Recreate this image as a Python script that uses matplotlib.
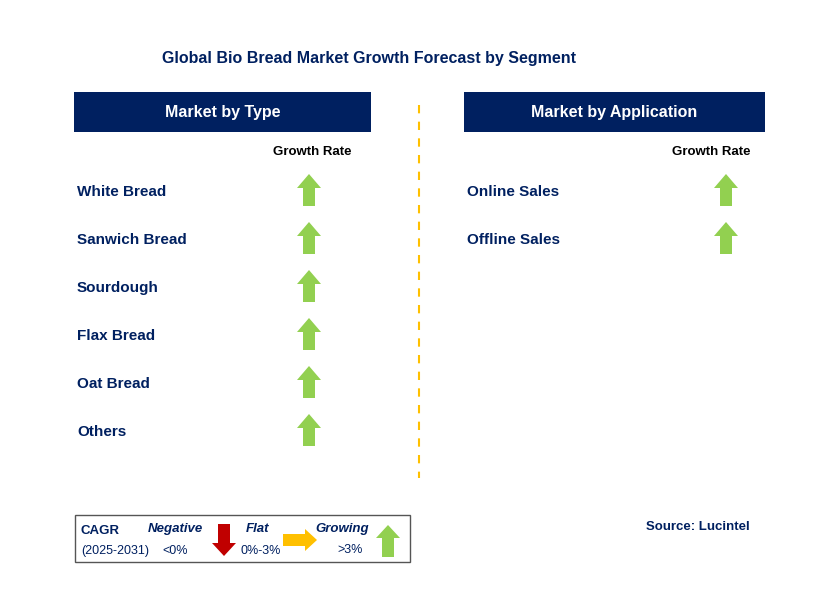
import matplotlib
matplotlib.use("Agg")
import matplotlib.pyplot as plt
from matplotlib.patches import Polygon, Rectangle

title = "Global Bio Bread Market Growth Forecast by Segment"
type_categories = ["White Bread", "Sanwich Bread", "Sourdough", "Flax Bread", "Oat Bread", "Others"]
type_growth = ["up", "up", "up", "up", "up", "up"]
app_categories = ["Online Sales", "Offline Sales"]
app_growth = ["up", "up"]

NAVY = "#002060"
GREEN = "#92D050"
RED = "#C00000"
ORANGE = "#FFC000"

fig = plt.figure(figsize=(8.29, 6.09), dpi=100)
ax = fig.add_axes([0, 0, 1, 1])
ax.set_xlim(0, 829); ax.set_ylim(609, 0); ax.axis("off")
F = "Liberation Sans"

def arrow(cx, cy, d, color, h=32, hw=12, sw=6, hh=14):
    if d == "up":
        pts = [(cx-sw, cy+h/2), (cx-sw, cy-h/2+hh), (cx-hw, cy-h/2+hh), (cx, cy-h/2),
               (cx+hw, cy-h/2+hh), (cx+sw, cy-h/2+hh), (cx+sw, cy+h/2)]
    elif d == "down":
        pts = [(cx-sw, cy-h/2), (cx-sw, cy+h/2-hh), (cx-hw, cy+h/2-hh), (cx, cy+h/2),
               (cx+hw, cy+h/2-hh), (cx+sw, cy+h/2-hh), (cx+sw, cy-h/2)]
    else:
        pts = [(cx-h/2, cy-sw), (cx+h/2-hh, cy-sw), (cx+h/2-hh, cy-hw), (cx+h/2, cy),
               (cx+h/2-hh, cy+hw), (cx+h/2-hh, cy+sw), (cx-h/2, cy+sw)]
    ax.add_patch(Polygon(pts, closed=True, color=color, lw=0))

ax.text(369, 59, title, ha="center", va="center", fontsize=11.5, fontweight="bold", color=NAVY, family=F)

for x0, x1, lab in [(74, 371, "Market by Type"), (464, 765, "Market by Application")]:
    ax.add_patch(Rectangle((x0, 92), x1-x0, 40, color=NAVY, lw=0))
    ax.text((x0+x1)/2, 113, lab, ha="center", va="center", fontsize=11.5, fontweight="bold", color="white", family=F)

ax.plot([419, 419], [105, 478], ls=(0, (4, 4)), color=ORANGE, lw=1.5)

ax.text(312, 152, "Growth Rate", ha="center", va="center", fontsize=9.5, fontweight="bold", color="black", family=F)
ax.text(711, 152, "Growth Rate", ha="center", va="center", fontsize=9.5, fontweight="bold", color="black", family=F)

for i, (c, g) in enumerate(zip(type_categories, type_growth)):
    y = 190 + 48*i
    ax.text(77, y + 2, c, ha="left", va="center", fontsize=11, fontweight="bold", color=NAVY, family=F)
    arrow(309, y, g, GREEN)
for i, (c, g) in enumerate(zip(app_categories, app_growth)):
    y = 190 + 48*i
    ax.text(467, y + 2, c, ha="left", va="center", fontsize=11, fontweight="bold", color=NAVY, family=F)
    arrow(726, y, g, GREEN)

# legend
ax.add_patch(Rectangle((75, 515), 335, 47, fill=False, ec="#555555", lw=1))
ax.text(81, 531, "CAGR", fontsize=9.5, fontweight="bold", color=NAVY, va="center", family=F)
ax.text(81, 551, "(2025-2031)", fontsize=9, color=NAVY, va="center", family=F)
ax.text(175, 529, "Negative", fontsize=9.5, fontweight="bold", style="italic", color=NAVY, va="center", ha="center", family=F)
ax.text(175, 551, "<0%", fontsize=9, color=NAVY, va="center", ha="center", family=F)
arrow(224, 540, "down", RED, h=32, hw=12, sw=6, hh=13)
ax.text(258, 529, "Flat", fontsize=9.5, fontweight="bold", style="italic", color=NAVY, va="center", ha="center", family=F)
ax.text(261, 551, "0%-3%", fontsize=9, color=NAVY, va="center", ha="center", family=F)
arrow(300, 540, "right", ORANGE, h=34, hw=11, sw=6, hh=12)
ax.text(342, 529, "Growing", fontsize=9.5, fontweight="bold", style="italic", color=NAVY, va="center", ha="center", family=F)
ax.text(350, 550, ">3%", fontsize=9, color=NAVY, va="center", ha="center", family=F)
arrow(388, 541, "up", GREEN, h=32, hw=12, sw=6, hh=13)

ax.text(750, 527, "Source: Lucintel", ha="right", va="center", fontsize=9.5, fontweight="bold", color=NAVY, family=F)

fig.savefig("out.png", dpi=100)
